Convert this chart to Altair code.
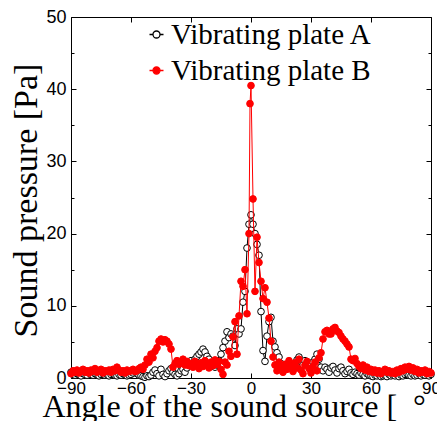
import altair as alt
import pandas as pd

series_names = ["Vibrating plate A", "Vibrating plate B"]

angles_a = list(range(-90, 91))
pressure_a = [
    0.8, 0.5, 0.4, 0.6, 0.5, 0.3, 0.6, 0.5, 0.4, 0.7,
    0.5, 0.4, 0.6, 0.5, 0.3, 0.5, 0.6, 0.4, 0.5, 0.3,
    0.5, 0.6, 0.4, 0.3, 0.5, 0.4, 0.6, 0.5, 0.3, 0.4,
    0.5, 0.7, 0.9, 0.6, 0.4, 0.3, 0.2, 0.1, 0.3, 0.2,
    0.4, 0.8, 1.1, 0.6, 0.3, 1.2, 0.5, 0.2, 0.6, 1.0,
    1.3, 0.8, 0.5, 0.3, 0.6, 1.0, 1.2, 0.8, 1.4, 2.0,
    2.4, 1.8, 2.6, 3.0, 3.3, 3.6, 4.0, 3.6, 3.0, 2.6,
    2.0, 1.7, 1.5, 1.8, 2.4, 3.3, 4.2, 5.1, 6.4, 5.6,
    6.1, 5.8, 4.5, 6.8, 6.1, 6.8, 10.5, 12.0, 18.0, 21.3,
    22.6, 21.3, 20.0, 18.5, 17.0, 9.2, 3.8, 2.3, 5.8, 7.8, 8.4,
    5.1, 4.3, 3.5, 2.9, 2.0, 1.6, 1.8, 1.4, 1.7, 1.5,
    1.8, 2.0, 2.5, 2.9, 2.3, 1.8, 2.4, 2.0, 1.6, 1.9,
    2.2, 2.6, 3.3, 2.6, 1.5, 1.0, 1.5, 1.2, 0.8, 1.4,
    1.6, 1.1, 0.7, 1.3, 1.5, 1.0, 0.6, 0.9, 1.2, 0.7,
    0.5, 0.8, 0.6, 0.4, 0.7, 0.5, 0.3, 0.6, 0.4, 0.3,
    0.2, 0.4, 0.3, 0.5, 0.2, 0.3, 0.4, 0.2, 0.5, 0.3,
    0.4, 0.3, 0.5, 0.2, 0.4, 0.3, 0.5, 0.6, 0.4, 0.3,
    0.5, 0.3, 0.4, 0.6, 0.3, 0.5, 0.4, 0.6, 0.3, 0.5,
]

angles_b = list(range(-90, 0)) + [-0.5] + list(range(0, 91))
pressure_b = [
    0.6, 1.0, 0.8, 1.1, 0.7, 0.9, 1.2, 0.8, 1.0, 0.7,
    1.1, 0.9, 1.3, 0.8, 1.0, 1.2, 0.7, 1.0, 0.9, 1.1,
    0.8, 1.2, 1.0, 1.5, 1.1, 0.8, 1.0, 0.7, 1.1, 0.9,
    1.0, 1.2, 0.9, 1.0, 1.3, 1.5, 1.2, 1.8, 2.6, 2.2,
    3.3, 2.8, 3.7, 4.2, 5.1, 5.4, 5.0, 5.3, 5.1, 4.7,
    4.0, 1.5, 2.0, 2.4, 1.9, 2.2, 2.6, 1.8, 2.3, 1.7,
    2.0, 1.5, 2.3, 1.8, 1.3, 2.1, 1.6, 2.4, 1.9, 1.4,
    2.2, 1.7, 2.5, 1.9, 2.3, 1.2, 0.5, 2.2, 1.8, 3.7,
    3.0, 5.7, 7.8, 3.3, 8.6, 13.4, 12.7, 15.0, 8.9, 20.0,
    38.0,
    40.5, 24.8, 12.0, 19.5, 16.0, 13.4, 11.0, 12.5, 10.5, 8.3, 5.1,
    2.9, 1.8, 1.0, 2.2, 1.5, 0.8, 1.9, 1.2, 2.4, 1.6,
    0.9, 2.1, 1.4, 2.6, 1.1, 0.6, 1.8, 2.3, 1.3, 0.7,
    1.6, 2.2, 1.0, 2.8, 3.5, 5.4, 6.4, 6.6, 6.1, 6.1,
    6.8, 7.0, 6.5, 6.3, 5.8, 5.4, 5.1, 4.7, 4.3, 2.6,
    2.4, 2.7, 2.0, 1.6, 1.3, 1.8, 1.1, 1.5, 0.9, 1.2,
    0.8, 1.1, 0.7, 1.0, 0.6, 0.9, 1.2, 0.8, 1.0, 0.7,
    0.9, 0.6, 1.1, 0.8, 1.3, 1.0, 1.5, 1.2, 1.6, 1.1,
    1.4, 0.9, 1.2, 0.7, 1.0, 0.8, 1.1, 0.6, 0.9, 0.7,
]

x_ticks = [-90, -60, -30, 0, 30, 60, 90]
y_ticks = [0, 10, 20, 30, 40, 50]
y_minor = [5, 15, 25, 35, 45]

df_a = pd.DataFrame({"angle": angles_a, "p": pressure_a, "series": series_names[0]})
df_b = pd.DataFrame({"angle": angles_b, "p": pressure_b, "series": series_names[1]})

SERIF = "'Liberation Serif', 'Times New Roman', Times, serif"
SANS = "'Liberation Sans', Arial, Helvetica, sans-serif"

W, H = 360, 361
xs = alt.Scale(domain=[-90, 90], nice=False, zero=False)
ys = alt.Scale(domain=[0, 50], nice=False, zero=False)
stroke_scale = alt.Scale(domain=series_names, range=["black", "red"])
fill_scale = alt.Scale(domain=series_names, range=["white", "red"])

LEG_PATH = "M-1,0L-0.5,0M0.5,0L1,0M0.5,0A0.5,0.5,0,1,1,-0.5,0A0.5,0.5,0,1,1,0.5,0Z"
legend = alt.Legend(orient="none", legendX=71, legendY=3, title=None,
                    symbolType=LEG_PATH, symbolSize=196, symbolStrokeWidth=1.3,
                    labelFont=SERIF, labelFontSize=29, labelColor="black",
                    labelOffset=0, rowPadding=6, padding=0, labelLimit=400)


def tick_axis(orient, offset, values, size):
    return alt.Axis(orient=orient, offset=offset, values=values, labels=False,
                    ticks=True, tickSize=size, tickColor="black", tickWidth=1,
                    domain=False, grid=False, title=None)


x_main = alt.Axis(orient="bottom", values=x_ticks, format="d", ticks=False, domain=False,
                  grid=False, labelFont=SANS, labelFontSize=17,
                  labelColor="black", labelPadding=2, labelFlush=False, labelOverlap=False,
                  title="Angle of the sound source [\u2002°\u2003]", titleFont=SERIF,
                  titleFontSize=32, titleFontWeight="normal", titleColor="black",
                  titleX=-29, titleY=38, titleAlign="left", titleBaseline="alphabetic")
y_main = alt.Axis(orient="left", values=y_ticks, format="d", ticks=False, domain=False,
                  grid=False, labelFont=SANS, labelFontSize=18,
                  labelColor="black", labelPadding=5, labelFlush=False, labelOverlap=False,
                  title="Sound pressure [Pa]", titleFont=SERIF,
                  titleFontSize=34, titleFontWeight="normal", titleColor="black",
                  titleAngle=270, titleX=-35, titleY=183, titleAlign="center",
                  titleBaseline="alphabetic")

line_a = alt.Chart(df_a).mark_line(color="black", strokeWidth=1).encode(
    x=alt.X("angle:Q", scale=xs, axis=x_main),
    y=alt.Y("p:Q", scale=ys, axis=y_main),
)
pts_a = alt.Chart(df_a).mark_point(shape="circle", filled=True, size=45, strokeWidth=1, opacity=1).encode(
    x=alt.X("angle:Q", scale=xs, axis=tick_axis("top", -H, x_ticks, 5)),
    y=alt.Y("p:Q", scale=ys, axis=tick_axis("right", -W, y_ticks, 5)),
    stroke=alt.Stroke("series:N", scale=stroke_scale, legend=legend),
    fill=alt.Fill("series:N", scale=fill_scale, legend=legend),
)
line_b = alt.Chart(df_b).mark_line(color="red", strokeWidth=1).encode(
    x=alt.X("angle:Q", scale=xs, axis=tick_axis("bottom", -H, x_ticks, 5)),
    y=alt.Y("p:Q", scale=ys, axis=tick_axis("left", -W, y_ticks, 5)),
)
pts_b = alt.Chart(df_b).mark_point(shape="circle", filled=True, size=45, strokeWidth=1, opacity=1).encode(
    x=alt.X("angle:Q", scale=xs, axis=None),
    y=alt.Y("p:Q", scale=ys, axis=tick_axis("right", -W, y_minor, 3)),
    stroke=alt.Stroke("series:N", scale=stroke_scale, legend=legend),
    fill=alt.Fill("series:N", scale=fill_scale, legend=legend),
)
minor_r = alt.Chart(df_a).mark_point(opacity=0).encode(
    x=alt.X("angle:Q", scale=xs, axis=None),
    y=alt.Y("p:Q", scale=ys, axis=tick_axis("left", -W, y_minor, 3)),
)

chart = alt.layer(line_a, pts_a, line_b, pts_b, minor_r).resolve_axis(
    x="independent", y="independent"
).properties(
    width=W, height=H,
    autosize=alt.AutoSizeParams(type="none"),
    padding={"left": 63, "top": 9, "right": 6, "bottom": 43},
    background="white",
).configure_view(stroke="black", strokeWidth=1)

chart.save("out.html", embed_options={"renderer": "svg", "actions": False})
